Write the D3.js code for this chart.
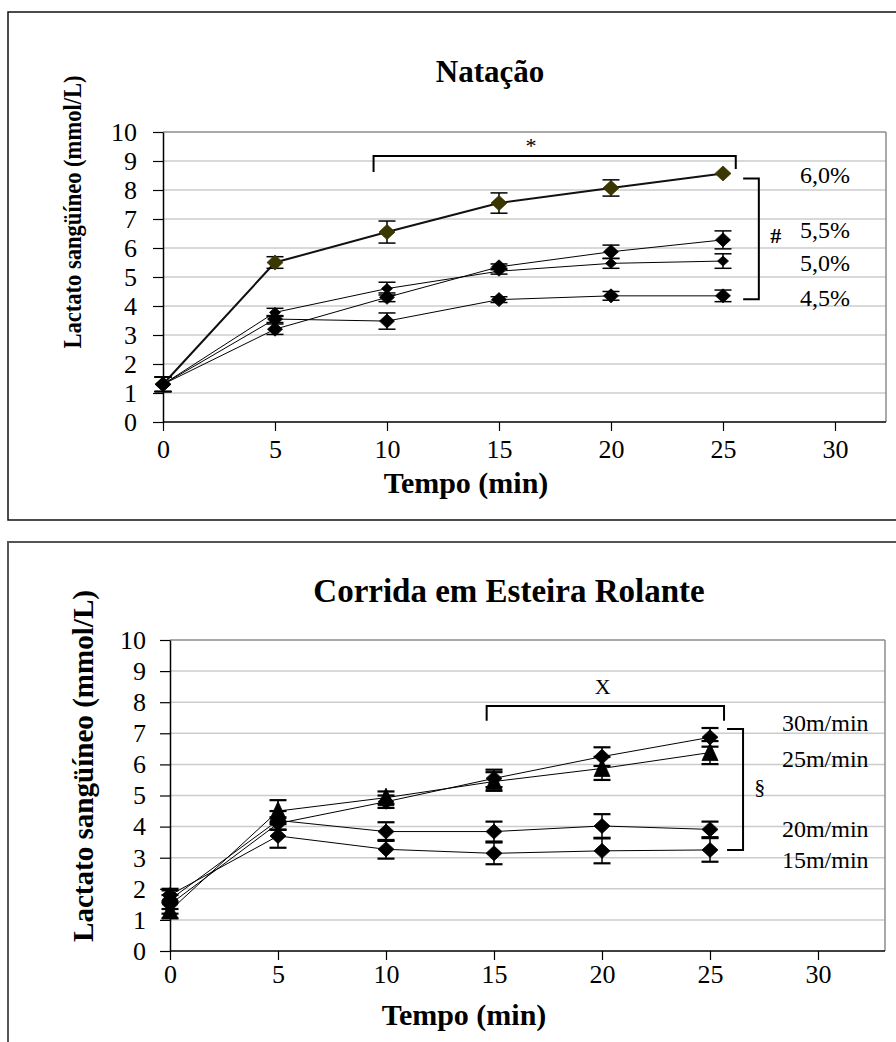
<!DOCTYPE html>
<html>
<head>
<meta charset="utf-8">
<script src="https://cdn.jsdelivr.net/npm/d3@7"></script>
<style>
  body { margin: 0; background: #fff; }
  svg text { font-family: 'Liberation Serif', 'Times New Roman', serif; fill: #000; }
</style>
</head>
<body>
<svg id="chart" width="896" height="1042"></svg>
<script>
'use strict';

// shared axes
const times = [0, 5, 10, 15, 20, 25];
const xTicks = [0, 5, 10, 15, 20, 25, 30];
const yTicks = [0, 1, 2, 3, 4, 5, 6, 7, 8, 9, 10];

// Natação (% of body weight load)
const swimNames = ['6,0%', '5,5%', '5,0%', '4,5%'];
const swim60 = [1.3, 5.5, 6.55, 7.55, 8.07, 8.57];
const swim60Err = [0.25, 0.2, 0.38, 0.35, 0.28, 0];
const swim55 = [1.3, 3.2, 4.3, 5.35, 5.87, 6.28];
const swim55Err = [0.25, 0.18, 0.15, 0.1, 0.23, 0.31];
const swim50 = [1.3, 3.78, 4.6, 5.2, 5.47, 5.55];
const swim50Err = [0.25, 0.14, 0.22, 0.1, 0.17, 0.25];
const swim45 = [1.3, 3.55, 3.48, 4.22, 4.35, 4.35];
const swim45Err = [0.25, 0.12, 0.28, 0.1, 0.15, 0.2];

// Corrida em esteira (speed)
const runNames = ['30m/min', '25m/min', '20m/min', '15m/min'];
const run30 = [1.5, 4.1, 4.8, 5.55, 6.25, 6.87];
const run30Err = [0.3, 0.2, 0.2, 0.28, 0.3, 0.3];
const run25 = [1.3, 4.5, 4.93, 5.45, 5.87, 6.38];
const run25Err = [0.25, 0.35, 0.2, 0.3, 0.37, 0.37];
const run20 = [1.65, 4.2, 3.84, 3.84, 4.02, 3.91];
const run20Err = [0.3, 0.3, 0.3, 0.32, 0.38, 0.25];
const run15 = [1.8, 3.7, 3.27, 3.14, 3.22, 3.25];
const run15Err = [0.2, 0.38, 0.3, 0.35, 0.4, 0.38];

const svg = d3.select('#chart');

const diamond = (w, h) => `M0,${-h}L${w},0L0,${h}L${-w},0Z`;
const triangle = (w, h) => `M0,${-h * 0.6}L${w},${h * 0.5}L${-w},${h * 0.5}Z`;

const drawPanel = (cfg) => {
  const g = svg.append('g');

  // outer frame (runs off the right / bottom edge like the scan)
  g.append('rect')
    .attr('x', cfg.box.x)
    .attr('y', cfg.box.y)
    .attr('width', cfg.box.w)
    .attr('height', cfg.box.h)
    .attr('fill', 'none')
    .attr('stroke', cfg.box.stroke)
    .attr('stroke-width', cfg.box.sw);

  const x = d3.scaleLinear().domain([0, 30]).range([cfg.left, cfg.x30]);
  const y = d3.scaleLinear().domain([0, 10]).range([cfg.bottom, cfg.top]);

  // grid
  g.append('g')
    .selectAll('line')
    .data(yTicks.filter((v) => v > 0))
    .join('line')
    .attr('x1', cfg.left)
    .attr('x2', cfg.right)
    .attr('y1', (d) => y(d))
    .attr('y2', (d) => y(d))
    .attr('stroke', (d) => (d === 10 ? '#8c8c8c' : '#cccccc'))
    .attr('stroke-width', 1.5);
  g.append('line')
    .attr('x1', cfg.right)
    .attr('x2', cfg.right)
    .attr('y1', cfg.top)
    .attr('y2', cfg.bottom)
    .attr('stroke', '#8c8c8c')
    .attr('stroke-width', 1.5);

  // axes
  const xAxis = g.append('g')
    .attr('transform', `translate(0,${cfg.bottom})`)
    .call(d3.axisBottom(x).tickValues(xTicks).tickSize(9).tickSizeOuter(0).tickPadding(cfg.xPad));
  const yAxis = g.append('g')
    .attr('transform', `translate(${cfg.left},0)`)
    .call(d3.axisLeft(y).tickValues(yTicks).tickSize(10).tickSizeOuter(0).tickPadding(cfg.yPad));
  [xAxis, yAxis].forEach((a) => {
    a.select('.domain').attr('stroke', '#000').attr('stroke-width', 1.5);
    a.selectAll('.tick line').attr('stroke', '#000').attr('stroke-width', 1.2);
    a.selectAll('.tick text')
      .attr('font-family', "'Liberation Serif', 'Times New Roman', serif")
      .attr('font-size', 26)
      .attr('fill', '#000');
  });
  xAxis.select('.domain').attr('d', `M${cfg.left},0H${cfg.right}`);

  // titles
  g.append('text')
    .attr('x', cfg.titleX)
    .attr('y', cfg.titleY)
    .attr('text-anchor', 'middle')
    .attr('font-size', cfg.titleSize)
    .attr('font-weight', 'bold')
    .text(cfg.title);
  g.append('text')
    .attr('x', cfg.xTitleX)
    .attr('y', cfg.xTitleY)
    .attr('text-anchor', 'middle')
    .attr('font-size', 30)
    .attr('font-weight', 'bold')
    .text('Tempo (min)');
  g.append('text')
    .attr('transform', `translate(${cfg.yTitleX},${cfg.yTitleY}) rotate(-90)`)
    .attr('text-anchor', 'middle')
    .attr('font-size', cfg.yTitleSize)
    .attr('font-weight', 'bold')
    .attr('textLength', cfg.yTitleLen)
    .attr('lengthAdjust', 'spacingAndGlyphs')
    .text('Lactato sangüíneo (mmol/L)');

  const line = d3.line()
    .x((d) => x(d.t))
    .y((d) => y(d.v));

  cfg.series.forEach((s) => {
    const pts = times.map((t, i) => ({ t: t, v: s.values[i], e: s.err[i] }));
    const sg = g.append('g');

    sg.append('path')
      .datum(pts)
      .attr('d', line)
      .attr('fill', 'none')
      .attr('stroke', s.lineColor || '#000')
      .attr('stroke-width', s.lineWidth || 1);

    const eb = sg.selectAll('.err')
      .data(pts.filter((d) => d.e > 0))
      .join('g')
      .attr('class', 'err');
    eb.append('line')
      .attr('x1', (d) => x(d.t))
      .attr('x2', (d) => x(d.t))
      .attr('y1', (d) => y(d.v - d.e))
      .attr('y2', (d) => y(d.v + d.e))
      .attr('stroke', '#000')
      .attr('stroke-width', 1.5);
    [-1, 1].forEach((k) => {
      eb.append('line')
        .attr('x1', (d) => x(d.t) - cfg.cap)
        .attr('x2', (d) => x(d.t) + cfg.cap)
        .attr('y1', (d) => y(d.v + k * d.e))
        .attr('y2', (d) => y(d.v + k * d.e))
        .attr('stroke', '#000')
        .attr('stroke-width', cfg.capWidth);
    });

    sg.selectAll('.mk')
      .data(pts)
      .join('path')
      .attr('class', 'mk')
      .attr('transform', (d) => `translate(${x(d.t)},${y(d.v)})`)
      .attr('d', s.shape === 'triangle' ? triangle(8, 16) : diamond(s.size, s.size - 0.5))
      .attr('fill', s.fill || '#000')
      .attr('stroke', s.fill || '#000')
      .attr('stroke-width', 0.8);
  });

  // significance bracket over the time range
  const sb = cfg.sig;
  g.append('path')
    .attr('d', `M${x(sb.x0)},${y(sb.yL)}V${y(sb.y)}H${x(sb.x1)}V${y(sb.yR)}`)
    .attr('fill', 'none')
    .attr('stroke', '#000')
    .attr('stroke-width', 2);
  g.append('text')
    .attr('x', x(sb.lx))
    .attr('y', y(sb.ly))
    .attr('dy', '0.35em')
    .attr('text-anchor', 'middle')
    .attr('font-size', 22)
    .text(sb.label);

  // bracket grouping the series
  const gb = cfg.group;
  g.append('path')
    .attr('d', `M${x(gb.x0)},${y(gb.yT)}H${x(gb.x1)}V${y(gb.yB)}H${x(gb.x0)}`)
    .attr('fill', 'none')
    .attr('stroke', '#000')
    .attr('stroke-width', 2);
  g.append('text')
    .attr('x', x(gb.lx))
    .attr('y', y(gb.ly))
    .attr('dy', '0.35em')
    .attr('text-anchor', 'middle')
    .attr('font-size', 22)
    .attr('font-weight', gb.bold ? 'bold' : 'normal')
    .text(gb.label);

  // series labels
  g.selectAll('.lbl')
    .data(cfg.labels)
    .join('text')
    .attr('class', 'lbl')
    .attr('x', x(cfg.labelX))
    .attr('y', (d) => y(d.y))
    .attr('dy', '0.35em')
    .attr('font-size', 24)
    .text((d) => d.name);
};

drawPanel({
  box: { x: 8, y: 12, w: 900, h: 508, stroke: '#111', sw: 1.5 },
  left: 163, right: 886, x30: 835, top: 132, bottom: 422,
  xPad: 9, yPad: 16,
  title: 'Natação', titleX: 490, titleY: 82, titleSize: 31,
  xTitleX: 466, xTitleY: 493,
  yTitleX: 81, yTitleY: 212, yTitleSize: 26, yTitleLen: 273,
  cap: 8.5, capWidth: 1.5,
  series: [
    { values: swim60, err: swim60Err, fill: '#3a3800', lineColor: '#111', lineWidth: 2, size: 8 },
    { values: swim55, err: swim55Err, size: 7.5 },
    { values: swim50, err: swim50Err, size: 5.5 },
    { values: swim45, err: swim45Err, size: 7.5 },
  ],
  sig: { x0: 9.4, x1: 25.57, y: 9.17, yL: 8.62, yR: 8.72, lx: 16.43, ly: 9.55, label: '*' },
  group: { x0: 25.9, x1: 26.6, yT: 8.4, yB: 4.23, lx: 27.35, ly: 6.45, label: '#', bold: true },
  labelX: 28.44,
  labels: swimNames.map((n, i) => ({ name: n, y: [8.52, 6.62, 5.48, 4.28][i] })),
});

drawPanel({
  box: { x: 8, y: 542, w: 900, h: 520, stroke: '#555', sw: 2 },
  left: 170, right: 885, x30: 818, top: 640, bottom: 951,
  xPad: 5, yPad: 14,
  title: 'Corrida em Esteira Rolante', titleX: 509, titleY: 602, titleSize: 33,
  xTitleX: 464, xTitleY: 1025,
  yTitleX: 93, yTitleY: 766, yTitleSize: 29, yTitleLen: 352,
  cap: 8.5, capWidth: 2.2,
  series: [
    { values: run30, err: run30Err, size: 8 },
    { values: run25, err: run25Err, shape: 'triangle' },
    { values: run20, err: run20Err, size: 8 },
    { values: run15, err: run15Err, size: 8 },
  ],
  sig: { x0: 14.66, x1: 25.65, y: 7.88, yL: 7.4, yR: 7.4, lx: 20.03, ly: 8.5, label: 'X' },
  group: { x0: 25.79, x1: 26.53, yT: 7.14, yB: 3.25, lx: 27.3, ly: 5.28, label: '§', bold: false },
  labelX: 28.33,
  labels: runNames.map((n, i) => ({ name: n, y: [7.34, 6.2, 3.95, 2.95][i] })),
});
</script>
</body>
</html>
